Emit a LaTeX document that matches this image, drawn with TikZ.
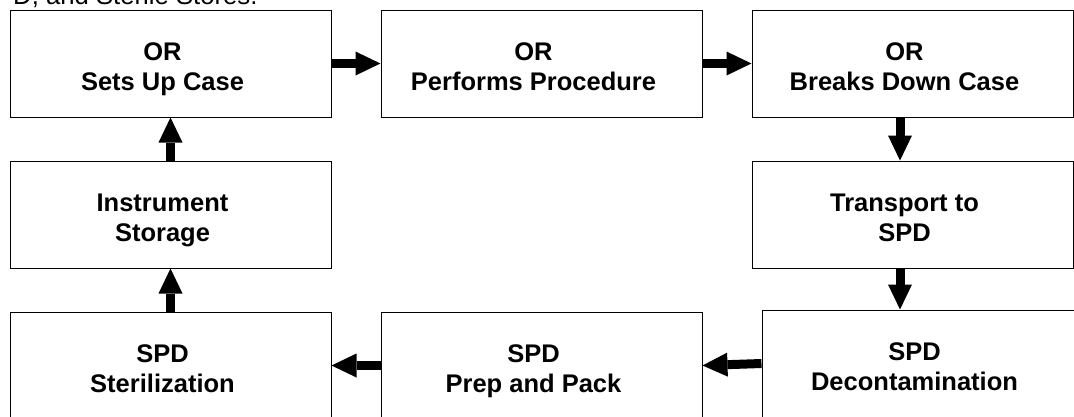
\documentclass[tikz,border=0pt]{standalone}
\usepackage{fontspec}
\setmainfont{Liberation Sans}
\usetikzlibrary{arrows.meta}
\usetikzlibrary{positioning}
\newcommand{\steplines}[2]{\rule{0pt}{32pt}#1\hspace*{16pt}\\\rule[-8pt]{0pt}{8pt}#2\hspace*{16pt}}
\tikzset{
    stepbox/.style={draw=black, line width=1pt, minimum width=321pt, minimum height=107pt,
        inner sep=0pt, align=center,
        font=\bfseries\fontsize{25.5}{29.3}\selectfont},
    flow/.style={draw=black, line width=9pt,
        -{Triangle[width=24pt,length=25pt,line width=0pt]}},
}

\begin{document}
\begin{tikzpicture}[x=1pt, y=-1pt]
	\clip (0,0) rectangle (1074,416);
	% cut-off caption line above the chart
	\node[anchor=base west, inner sep=0pt, font=\fontsize{25.7}{30}\selectfont] (caption) at (13,4.5) {D, and Sterile Stores.};
	% top row
	\node[stepbox] (setup) at (170.5,63.5) {\steplines{OR}{Sets Up Case}};
	\node[stepbox, right=49pt of setup] (perform) {\steplines{OR}{Performs Procedure}};
	\node[stepbox, right=49pt of perform] (breakdown) {\steplines{OR}{Breaks Down Case}};
	% middle row
	\node[stepbox, below=43pt of setup] (storage) {\steplines{Instrument}{Storage}};
	\node[stepbox, below=43pt of breakdown] (transport) {\steplines{Transport to}{SPD}};
	% bottom row
	\node[stepbox, below=43pt of storage] (steril) {\steplines{SPD}{Sterilization}};
	\node[stepbox, right=49pt of steril] (prep) {\steplines{SPD}{Prep and Pack}};
	\node[stepbox] (decon) at (922.5,363.5) {\steplines{SPD}{Decontamination}};
	% arrows
	\draw[flow] (setup.east) -- (perform.west);
	\draw[flow] (perform.east) -- (breakdown.west);
	\draw[flow] ([xshift=-12.5pt]breakdown.south) -- ([xshift=-12.5pt]transport.north);
	\draw[flow] ([xshift=-12.5pt]transport.south) -- ([xshift=-12.5pt]transport.south |- decon.north);
	\draw[flow] (decon.west) -- (prep.east);
	\draw[flow] (prep.west) -- (steril.east);
	\draw[flow] (steril.north) -- (storage.south);
	\draw[flow] (storage.north) -- (setup.south);
\end{tikzpicture}
\end{document}
